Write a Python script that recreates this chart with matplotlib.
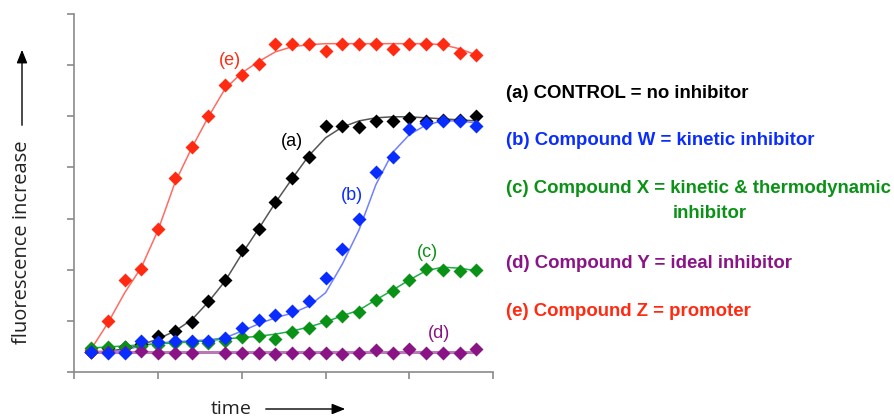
import numpy as np
import matplotlib
matplotlib.use("Agg")
import matplotlib.pyplot as plt
from matplotlib.patches import FancyArrowPatch

# time points (arbitrary units, tick every 5 readings)
t = np.arange(1, 25)

# measured points
ctrl_pts = [0.39, 0.47, 0.49, 0.55, 0.70, 0.80, 0.98, 1.39, 1.80, 2.39, 2.80, 3.33,
            3.80, 4.21, 4.81, 4.81, 4.80, 4.91, 4.91, 4.97, 4.91, 4.93, 4.93, 5.01]
w_pts = [0.39, 0.37, 0.37, 0.61, 0.59, 0.61, 0.61, 0.61, 0.67, 0.86, 1.02, 1.12,
         1.19, 1.39, 1.84, 2.41, 2.99, 3.91, 4.21, 4.76, 4.87, 4.91, 4.91, 4.81]
x_pts = [0.47, 0.49, 0.49, 0.51, 0.53, 0.57, 0.57, 0.57, 0.60, 0.68, 0.70, 0.65,
         0.78, 0.86, 1.00, 1.10, 1.17, 1.41, 1.59, 1.80, 2.02, 2.00, 1.98, 2.00]
y_pts = [0.39, 0.39, 0.39, 0.41, 0.37, 0.38, 0.38, np.nan, 0.37, 0.38, 0.38, 0.35,
         0.38, 0.38, 0.38, 0.36, 0.38, 0.43, 0.38, 0.45, 0.38, 0.38, 0.38, 0.45]
z_pts = [0.43, 1.00, 1.80, 2.02, 2.80, 3.80, 4.40, 5.01, 5.62, 5.81, 6.03, 6.42,
         6.42, 6.42, 6.28, 6.42, 6.42, 6.42, 6.32, 6.42, 6.42, 6.42, 6.24, 6.20]

# fitted curves, read at the same time points
ctrl_fit = [0.39, 0.41, 0.45, 0.53, 0.65, 0.80, 1.02, 1.37, 1.78, 2.31, 2.80, 3.31,
            3.78, 4.23, 4.58, 4.79, 4.91, 4.97, 4.99, 4.99, 4.97, 4.95, 4.93, 4.91]
w_fit = [0.39, 0.39, 0.43, 0.51, 0.57, 0.59, 0.61, 0.63, 0.67, 0.80, 0.94, 1.06,
         1.15, 1.29, 1.55, 2.11, 2.78, 3.66, 4.29, 4.64, 4.83, 4.91, 4.91, 4.87]
x_fit = [0.47, 0.49, 0.51, 0.53, 0.55, 0.57, 0.59, 0.61, 0.65, 0.67, 0.70, 0.74,
         0.80, 0.88, 0.98, 1.10, 1.21, 1.41, 1.60, 1.80, 1.98, 2.05, 2.03, 1.98]
y_fit = [0.40, 0.40, 0.40, 0.40, 0.40, 0.40, 0.40, 0.40, 0.40, 0.40, 0.40, 0.40,
         0.40, 0.40, 0.40, 0.40, 0.40, 0.40, 0.40, 0.40, 0.40, 0.40, 0.40, 0.40]
z_fit = [0.45, 0.96, 1.55, 2.05, 2.78, 3.70, 4.38, 4.99, 5.54, 5.85, 6.07, 6.26,
         6.36, 6.40, 6.42, 6.42, 6.42, 6.42, 6.42, 6.42, 6.42, 6.40, 6.32, 6.20]

# curve labels and legend text
tags = ["(a)", "(b)", "(c)", "(d)", "(e)"]
legend_lines = ["(a) CONTROL = no inhibitor",
                "(b) Compound W = kinetic inhibitor",
                "(c) Compound X = kinetic & thermodynamic",
                "(d) Compound Y = ideal inhibitor",
                "(e) Compound Z = promoter"]

fig = plt.figure(figsize=(8.95, 4.2), dpi=100)
ax = fig.add_axes([74.5 / 895, 48 / 420, 418.5 / 895, 358 / 420])

# fit lines
ax.plot(t, z_fit, color="#ff6b63", lw=1.1)
ax.plot(t, ctrl_fit, color="#555555", lw=1.1)
ax.plot(t, w_fit, color="#7080ff", lw=1.1)
ax.plot(t, x_fit, color="#1fae48", lw=1.1)
ax.plot(t, y_fit, color="#b77ab7", lw=2.2)

# data points
ms = 7.2
ax.plot(t, z_pts, "D", color="#ff2a12", ms=ms, mec="none")
ax.plot(t, ctrl_pts, "D", color="#000000", ms=ms, mec="none")
ax.plot(t, x_pts, "D", color="#0a9216", ms=ms, mec="none")
ax.plot(t, y_pts, "D", color="#8a1486", ms=ms, mec="none")
ax.plot(t, w_pts, "D", color="#0a2dff", ms=ms, mec="none")

ax.set_xlim(0, 25)
ax.set_ylim(0, 7)
ax.set_xticks([0, 5, 10, 15, 20, 25])
ax.set_yticks(range(8))
ax.set_xticklabels([])
ax.set_yticklabels([])
for s in ["top", "right"]:
    ax.spines[s].set_visible(False)
for s in ["left", "bottom"]:
    ax.spines[s].set_color("#8a8a8a")
    ax.spines[s].set_linewidth(1.2)
ax.tick_params(color="#8a8a8a", width=1.2, length=5, direction="out")

# labels on the curves
lab_font = dict(family="Liberation Sans", fontsize=13)
ax.text(13.0, 4.5, tags[0], color="#000000", ha="center", va="center", **lab_font)
ax.text(16.6, 3.45, tags[1], color="#0a2dff", ha="center", va="center", **lab_font)
ax.text(21.1, 2.33, tags[2], color="#0a9216", ha="center", va="center", **lab_font)
ax.text(21.8, 0.76, tags[3], color="#8a1486", ha="center", va="center", **lab_font)
ax.text(9.3, 6.1, tags[4], color="#ff2a12", ha="center", va="center", **lab_font)

# legend text on the right
leg_font = dict(family="Liberation Sans", fontsize=13.4, fontweight="bold", va="center")
leg_cols = ["#000000", "#0a2dff", "#0a9216", "#8a1486", "#ff2a12"]
leg_y = [93, 141, 189, 263, 312]
for txt, col, yy in zip(legend_lines, leg_cols, leg_y):
    fig.text(506 / 895, 1 - yy / 420, txt, color=col, **leg_font)
fig.text(673 / 895, 1 - 214 / 420, "inhibitor", color="#0a9216", **leg_font)

# axis titles with arrows
fig.text(22 / 895, 1 - 242 / 420, "fluorescence increase", rotation=90,
         family="Open Sans", fontsize=14.5, color="#222222", ha="center", va="center")
fig.text(231 / 895, 1 - 414 / 420, "time", family="Open Sans", fontsize=14,
         color="#222222", ha="center", va="baseline")
fig.add_artist(FancyArrowPatch(
    (22 / 895, 1 - 128 / 420), (22 / 895, 1 - 47 / 420), transform=fig.transFigure,
    arrowstyle="-|>,head_length=8,head_width=3.2", color="black", lw=1.0))
fig.add_artist(FancyArrowPatch(
    (263 / 895, 1 - 409 / 420), (348 / 895, 1 - 409 / 420), transform=fig.transFigure,
    arrowstyle="-|>,head_length=8,head_width=3.2", color="black", lw=1.0))

fig.savefig("out.png", dpi=100)
